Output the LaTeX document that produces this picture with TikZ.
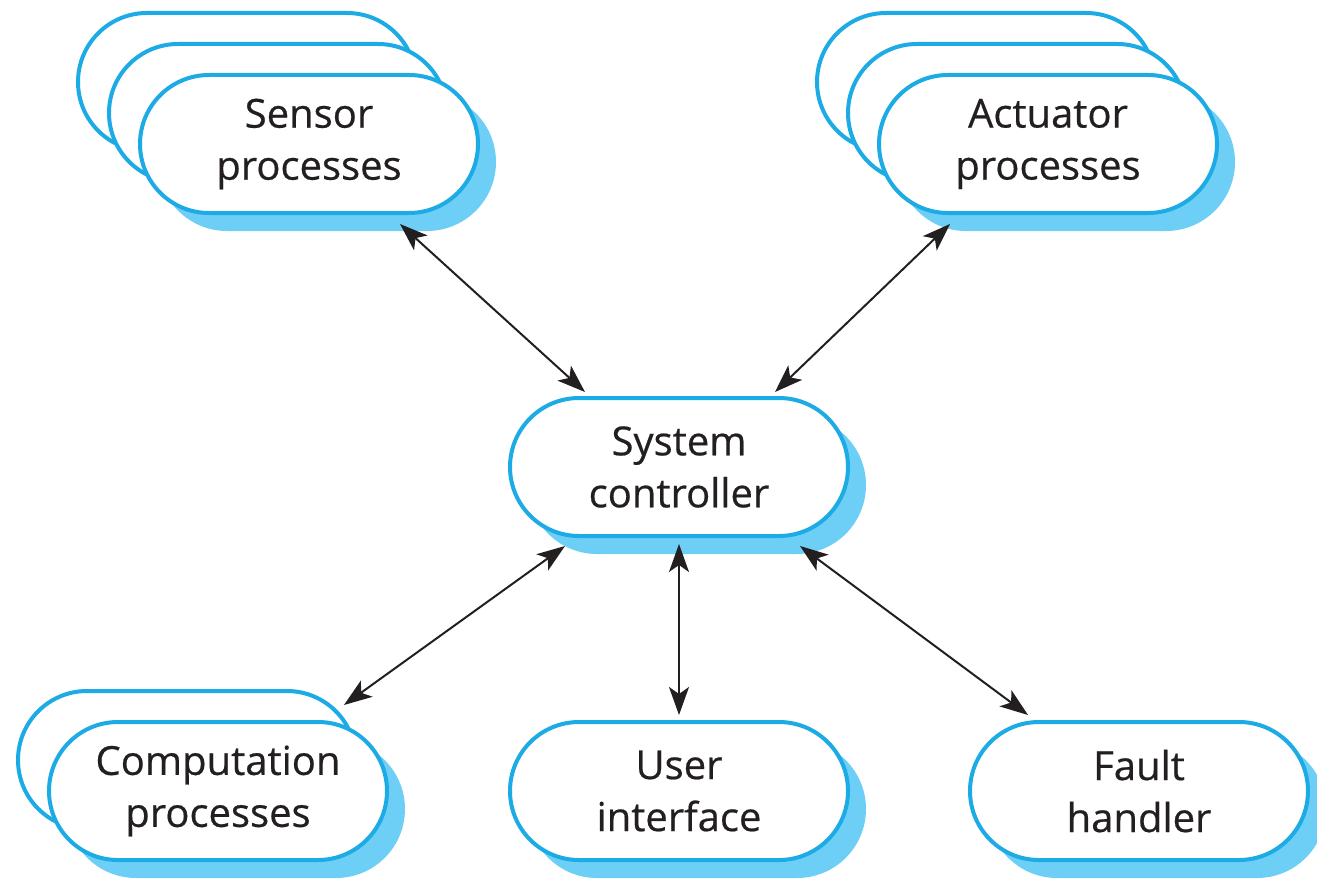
\documentclass[tikz,border=0pt]{standalone}
\usepackage{fontspec}
\setmainfont{Open Sans}
\newfontfamily\nodefont[FakeBold=0.5]{Open Sans}
\usetikzlibrary{arrows.meta,shadows,calc}
\definecolor{bord}{RGB}{29,171,230}
\definecolor{shad}{RGB}{109,207,246}
\definecolor{ink}{RGB}{35,31,32}
\begin{document}
\begin{tikzpicture}[x=1pt,y=-1pt,
 proc/.style={draw=bord, line width=4pt, fill=white, rounded corners=69pt, minimum width=338pt, minimum height=138pt, inner sep=0pt, align=center, text=ink, font=\nodefont\fontsize{40}{52}\selectfont},
 shd/.style={proc, drop shadow={shadow xshift=18pt, shadow yshift=-18pt, fill=shad, draw=none, opacity=1}},
 conn/.style={ink, line width=2pt, {Stealth[length=28pt,width=20pt,inset=7pt]}-{Stealth[length=28pt,width=20pt,inset=7pt]}}]
\useasboundingbox (0,0) rectangle (1317,880);
% sensor stack
\node[proc] (sensorA) at (247,82) {};
\node[proc] (sensorB) at (278,113) {};
\node[shd] (sensor) at (309,144) {Sensor\\processes};
% actuator stack
\node[proc] (actA) at (986,82) {};
\node[proc] (actB) at (1017,113) {};
\node[shd] (act) at (1048,144) {Actuator\\processes};
% controller
\node[shd] (ctrl) at (679,467) {System\\controller};
% computation stack
\node[proc] (compA) at (187,760) {};
\node[shd] (comp) at (218,791) {Computation\\processes};
% user interface, fault handler
\node[shd] (ui) at (679,791) {User\\interface};
\node[shd] (fault) at (1139,791) {Fault\\handler};
% connectors
\draw[conn] ($(sensor.south)+(91,9)$) -- ($(ctrl.north)+(-94,-4)$);
\draw[conn] ($(act.south)+(-98,9)$) -- ($(ctrl.north)+(96,-4)$);
\draw[conn] ($(comp.north)+(126,-15)$) -- ($(ctrl.south)+(-114,8)$);
\draw[conn] ($(ctrl.south)+(0,6)$) -- ($(ui.north)+(0,-5)$);
\draw[conn] ($(ctrl.south)+(121,8)$) -- ($(fault.north)+(-111,-5)$);
\end{tikzpicture}
\end{document}
